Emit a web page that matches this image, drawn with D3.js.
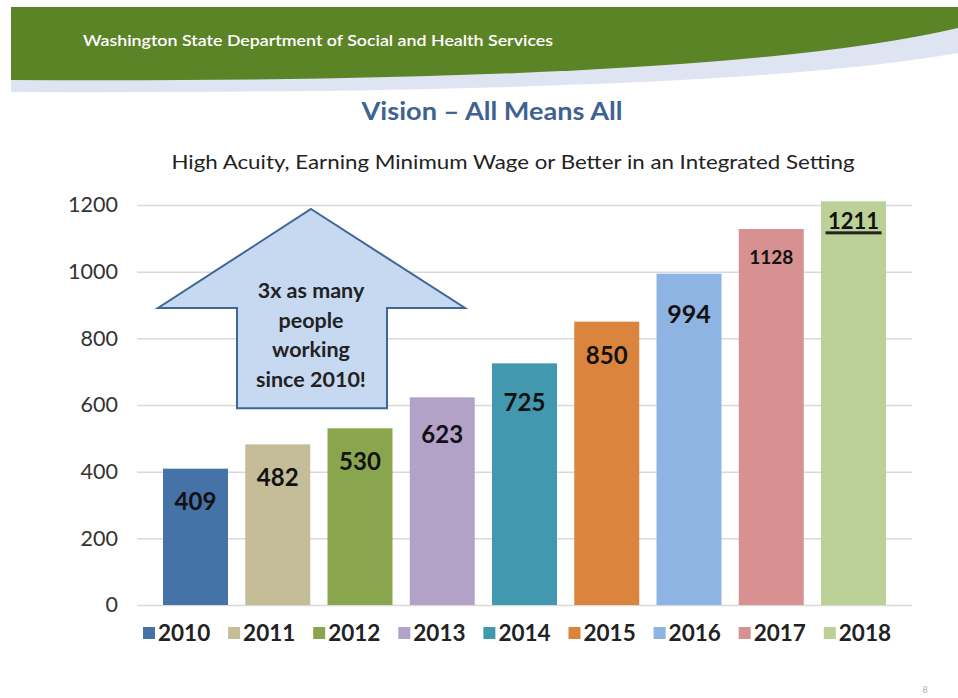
<!DOCTYPE html>
<html>
<head>
<meta charset="utf-8">
<script src="https://cdn.jsdelivr.net/npm/d3@7"></script>
<style>
  html, body { margin: 0; padding: 0; background: #ffffff; }
  svg { display: block; font-family: "Lato", "Open Sans", sans-serif; }
</style>
</head>
<body>
<svg id="chart" width="958" height="698"></svg>
<script>
// ---- data ----
const years = ["2010", "2011", "2012", "2013", "2014", "2015", "2016", "2017", "2018"];
const counts = [409, 482, 530, 623, 725, 850, 994, 1128, 1211];
const colors = ["#4572A7", "#C4BD97", "#89A54E", "#B3A2C7", "#4198AF", "#DB843D", "#8EB4E3", "#D69190", "#BBD197"];
const yTicks = [0, 200, 400, 600, 800, 1000, 1200];
const headerText = "Washington State Department of Social and Health Services";
const titleText = "Vision \u2013 All Means All";
const subtitleText = "High Acuity, Earning Minimum Wage or Better in an Integrated Setting";
const arrowLines = ["3x as many", "people", "working", "since 2010!"];

// ---- layout (styling only) ----
const plot = { left: 137, right: 912, top: 205, bottom: 605 };
const labelDy = [33, 33, 33, 37, 39, 34, 40, 28, 20];   // label centre offset below bar top
const labelSize = [24, 24, 24, 24, 24, 24, 25, 19, 22];

const svg = d3.select("#chart");

// ---- header banner ----
svg.append("path")
  .attr("d", "M11,7 L958,7 L958,53 Q720,95 11,92 Z")
  .attr("fill", "#DFE4F3");
svg.append("path")
  .attr("d", "M11,7 L958,7 L958,28 Q720,84 11,80 Z")
  .attr("fill", "#5B8427");
svg.append("text")
  .attr("x", 83).attr("y", 46)
  .attr("fill", "#ffffff")
  .attr("font-size", 16).attr("font-weight", 600)
  .attr("textLength", 470).attr("lengthAdjust", "spacingAndGlyphs")
  .text(headerText);

// ---- titles ----
svg.append("text")
  .attr("x", 492).attr("y", 120)
  .attr("text-anchor", "middle")
  .attr("fill", "#3F6391")
  .attr("font-size", 25).attr("font-weight", 700)
  .attr("textLength", 261).attr("lengthAdjust", "spacingAndGlyphs")
  .text(titleText);
svg.append("text")
  .attr("x", 513).attr("y", 169)
  .attr("text-anchor", "middle")
  .attr("fill", "#222222")
  .attr("font-size", 19)
  .attr("textLength", 683).attr("lengthAdjust", "spacingAndGlyphs")
  .text(subtitleText);

// ---- scales ----
const x = d3.scaleBand()
  .domain(years)
  .range([plot.left + 26, plot.right - 26])
  .paddingInner(0.21)
  .paddingOuter(0);
const y = d3.scaleLinear()
  .domain([0, 1200])
  .range([plot.bottom, plot.top]);

// ---- gridlines + y axis ----
const yAxis = d3.axisLeft(y)
  .tickValues(yTicks)
  .tickSize(-(plot.right - plot.left))
  .tickPadding(19)
  .tickFormat(d3.format("d"));
const gy = svg.append("g")
  .attr("transform", `translate(${plot.left},0)`)
  .call(yAxis);
gy.select(".domain").remove();
gy.selectAll(".tick line").attr("stroke", "#D9D9D9").attr("stroke-width", 1.5);
gy.selectAll(".tick text")
  .attr("fill", "#333333")
  .attr("font-size", 21.5)
  .attr("font-family", "Lato, 'Open Sans', sans-serif");

// ---- bars ----
const data = years.map((yr, i) => ({ year: yr, value: counts[i], color: colors[i], i }));
svg.append("g").selectAll("rect")
  .data(data)
  .join("rect")
  .attr("x", d => x(d.year))
  .attr("y", d => y(d.value))
  .attr("width", x.bandwidth())
  .attr("height", d => y(0) - y(d.value))
  .attr("fill", d => d.color);

// ---- value labels ----
svg.append("g").selectAll("text")
  .data(data)
  .join("text")
  .attr("x", d => x(d.year) + x.bandwidth() / 2)
  .attr("y", d => y(d.value) + labelDy[d.i])
  .attr("dy", "0.36em")
  .attr("text-anchor", "middle")
  .attr("font-size", d => labelSize[d.i])
  .attr("font-weight", 700)
  .attr("fill", "#111111")
  .text(d => d.value);

// underline for the last value
const last = data[data.length - 1];
svg.append("rect")
  .attr("x", x(last.year) + x.bandwidth() / 2 - 28)
  .attr("y", y(last.value) + labelDy[last.i] + 10)
  .attr("width", 56).attr("height", 3)
  .attr("fill", "#222222");

// ---- arrow annotation ----
const ax = 311;                 // arrow centre x
const arrow = d3.path();
arrow.moveTo(ax, y(1188));
arrow.lineTo(ax + 154, y(891));
arrow.lineTo(ax + 76, y(891));
arrow.lineTo(ax + 76, y(590));
arrow.lineTo(ax - 74, y(590));
arrow.lineTo(ax - 74, y(891));
arrow.lineTo(ax - 153, y(891));
arrow.closePath();
svg.append("path")
  .attr("d", arrow.toString())
  .attr("fill", "#C6D9F1")
  .attr("stroke", "#3C6796")
  .attr("stroke-width", 2)
  .attr("stroke-linejoin", "miter");
svg.append("g").selectAll("text")
  .data(arrowLines)
  .join("text")
  .attr("x", ax)
  .attr("y", (d, i) => 298 + i * 29.5)
  .attr("text-anchor", "middle")
  .attr("font-size", 21.5)
  .attr("font-weight", 700)
  .attr("fill", "#222222")
  .text(d => d);

// ---- legend ----
const legend = svg.append("g").selectAll("g")
  .data(data)
  .join("g")
  .attr("transform", d => `translate(${143 + d.i * 85.1},633)`);
legend.append("rect")
  .attr("x", 0).attr("y", -6)
  .attr("width", 12).attr("height", 12)
  .attr("fill", d => d.color);
legend.append("text")
  .attr("x", 15).attr("y", 0)
  .attr("dy", "0.36em")
  .attr("font-size", 22.5)
  .attr("font-weight", 700)
  .attr("fill", "#222222")
  .text(d => d.year);

// ---- page number ----
svg.append("text")
  .attr("x", 925).attr("y", 693)
  .attr("text-anchor", "middle")
  .attr("font-size", 9)
  .attr("fill", "#B0B0B0")
  .text("8");
</script>
</body>
</html>
